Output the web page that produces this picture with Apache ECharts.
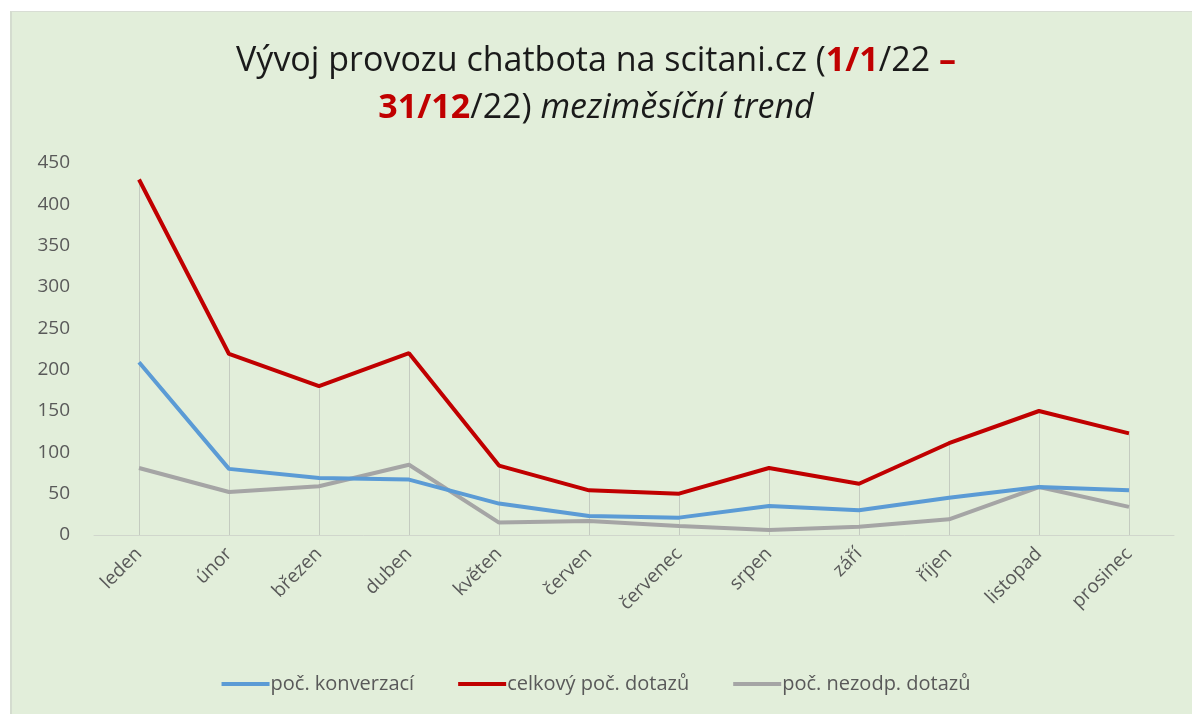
<!DOCTYPE html>
<html>
<head>
<meta charset="utf-8">
<script src="https://cdn.jsdelivr.net/npm/echarts@6/dist/echarts.min.js"></script>
<style>
  html, body { margin: 0; padding: 0; background: #fff; }
  #frame {
    position: absolute; left: 10px; top: 11px; width: 1182px; height: 703px;
    background: #e2eeda; border-left: 2px solid #d4dccf; border-top: 1px solid #d8ddd4;
    box-sizing: border-box;
  }
  #chart { position: absolute; left: 0; top: 0; width: 1192px; height: 715px; }
</style>
</head>
<body>
<div id="frame"></div>
<div id="chart"></div>
<script>
const months = ['leden', 'únor', 'březen', 'duben', 'květen', 'červen', 'červenec', 'srpen', 'září', 'říjen', 'listopad', 'prosinec']
const konverzace = [209, 80, 69, 67, 38, 23, 21, 35, 30, 45, 58, 54]
const dotazy = [430, 219, 180, 220, 84, 54, 50, 81, 62, 111, 150, 123]
const nezodp = [81, 52, 59, 85, 15, 17, 11, 6, 10, 19, 58, 34]
const yTicks = [0, 50, 100, 150, 200, 250, 300, 350, 400, 450]

const font = '"Open Sans", "Noto Sans", sans-serif'
const textGray = '#595959'

const chart = echarts.init(document.getElementById('chart'), null, { renderer: 'canvas' })

// svislé spojnice od osy k nejvyšší hodnotě (Excel drop lines)
const dropLines = dotazy.map((v, i) => [
  { coord: [i, 0] },
  { coord: [i, v] },
])

chart.setOption({
  backgroundColor: 'transparent',
  animation: false,
  textStyle: { fontFamily: font },
  title: {
    left: 'center',
    top: 33,
    text: '{t|Vývoj provozu chatbota na scitani.cz (}{r|1/1}{t|/22 }{r|–}\n{r|31/12}{t|/22) }{i|meziměsíční trend}',
    textStyle: {
      rich: {
        t: { fontSize: 34, color: '#1a1a1a', fontWeight: 'normal', fontFamily: font, lineHeight: 47 },
        r: { fontSize: 34, color: '#c00000', fontWeight: 'bold', fontFamily: font, lineHeight: 47 },
        i: { fontSize: 34, color: '#1a1a1a', fontWeight: 'normal', fontStyle: 'italic', fontFamily: font, lineHeight: 47 },
      },
    },
  },
  legend: {
    bottom: 16,
    left: 'center',
    itemWidth: 48,
    itemHeight: 4,
    itemGap: 44,
    icon: 'rect',
    textStyle: { color: textGray, fontSize: 20, fontFamily: font, padding: [0, 0, 0, -4] },
    data: ['poč. konverzací', 'celkový poč. dotazů', 'poč. nezodp. dotazů'],
  },
  grid: { left: 94, right: 18, top: 163, bottom: 180 },
  xAxis: {
    type: 'category',
    data: months,
    boundaryGap: true,
    axisLine: { lineStyle: { color: '#d0d6cc', width: 1 } },
    axisTick: { show: false },
    axisLabel: { color: textGray, fontSize: 19, rotate: 45, margin: 16, interval: 0, fontFamily: font },
  },
  yAxis: {
    type: 'value',
    min: yTicks[0],
    max: yTicks[yTicks.length - 1],
    interval: 50,
    axisLine: { show: false },
    axisTick: { show: false },
    splitLine: { show: false },
    axisLabel: { color: textGray, fontSize: 19, margin: 24, fontFamily: font },
  },
  series: [
    {
      name: 'poč. konverzací',
      type: 'line',
      data: konverzace,
      showSymbol: false,
      lineStyle: { width: 4, color: '#5b9bd5' },
      itemStyle: { color: '#5b9bd5' },
      z: 3,
    },
    {
      name: 'celkový poč. dotazů',
      type: 'line',
      data: dotazy,
      showSymbol: false,
      lineStyle: { width: 4, color: '#c00000' },
      itemStyle: { color: '#c00000' },
      z: 4,
      markLine: {
        silent: true,
        symbol: 'none',
        label: { show: false },
        lineStyle: { color: '#c4cbc0', width: 1, type: 'solid' },
        z: 1,
        data: dropLines,
      },
    },
    {
      name: 'poč. nezodp. dotazů',
      type: 'line',
      data: nezodp,
      showSymbol: false,
      lineStyle: { width: 4, color: '#a5a5a5' },
      itemStyle: { color: '#a5a5a5' },
      z: 2,
    },
  ],
})
</script>
</body>
</html>
